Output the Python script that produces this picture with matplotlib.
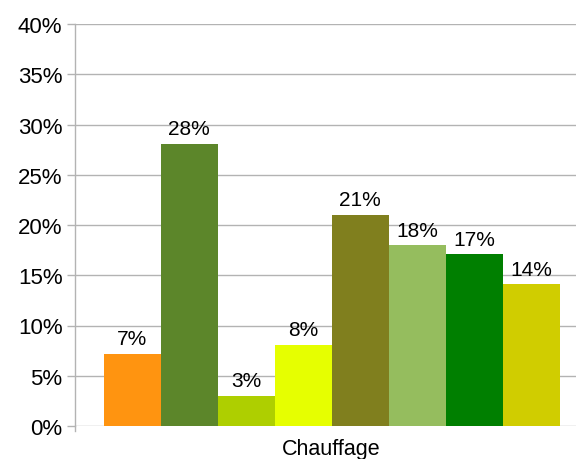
import numpy as np
import matplotlib
matplotlib.use('Agg')
import matplotlib.pyplot as plt
from matplotlib.lines import Line2D

plt.rcParams['font.family'] = ['Liberation Sans', 'DejaVu Sans']

category = 'Chauffage'
values = [7.2, 28.1, 3.0, 8.1, 21.0, 18.0, 17.1, 14.1]
labels = ['7%', '28%', '3%', '8%', '21%', '18%', '17%', '14%']
colors = ['#FF9410', '#5C862A', '#AECF00', '#E6FF00',
          '#807F1E', '#95BD5E', '#007F00', '#D0CD00']
yticks = [0, 5, 10, 15, 20, 25, 30, 35, 40]

fig = plt.figure(figsize=(5.76, 4.6), dpi=100)
ax = fig.add_axes([75/576, 33/460, 513/576, 402/460])

pos = np.arange(len(values)) + 0.5
bars = ax.bar(pos, values, width=1.0, color=colors, zorder=3)
for b, lab in zip(bars, labels):
    ax.annotate(lab, (b.get_x() + b.get_width()/2, b.get_height()),
                xytext=(0, 4), textcoords='offset points',
                ha='center', va='bottom', fontsize=15, color='black')

ax.set_xlim(-0.5, 8.5)
ax.set_ylim(0, 40)
ax.set_yticks(yticks)
ax.set_yticklabels(['{0:d}%'.format(t) for t in yticks], fontsize=16)
ax.set_xticks([4])
ax.set_xticklabels([category], fontsize=15.5)
ax.tick_params(axis='x', length=0, pad=8.5)
ax.tick_params(axis='y', length=6, width=1, color='#b3b3b3', pad=3)

ax.grid(axis='y', color='#b3b3b3', linewidth=1, zorder=0)
for s in ['top', 'right', 'bottom']:
    ax.spines[s].set_visible(False)
ax.spines['left'].set_color('#b3b3b3')
ax.spines['left'].set_linewidth(1)
# small extension of the value axis below zero
ax.add_line(Line2D([0, 0], [0, -5/402], transform=ax.transAxes,
                   color='#b3b3b3', linewidth=1, clip_on=False))

fig.savefig('out.png', dpi=100)
